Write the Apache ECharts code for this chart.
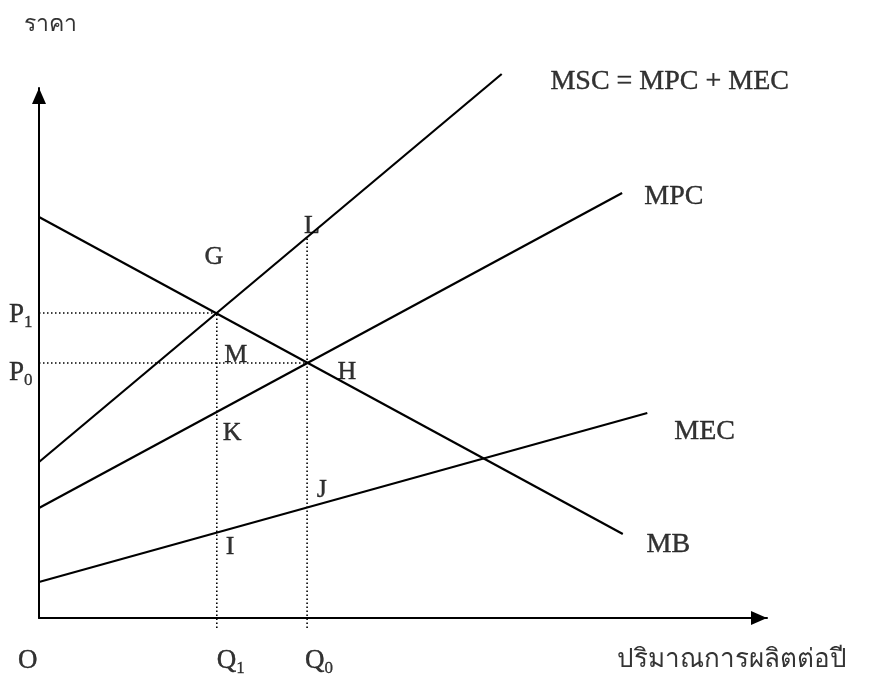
<!DOCTYPE html>
<html><head><meta charset="utf-8">
<script src="https://cdn.jsdelivr.net/npm/echarts@6/dist/echarts.min.js"></script>
<style>html,body{margin:0;padding:0;background:#fff}#c{width:884px;height:680px}</style>
</head><body><div id="c"></div>
<script>
// axis ranges (arbitrary units)
const xMax = 104, yMax = 106;
// equilibrium quantities and prices
const Q1 = 25.4, Q0 = 38.3;
const P1 = 61, P0 = 51;
// curves: [quantity, price]
const MSC = [[0, 31.2], [66.1, 108.8]];
const MPC = [[0, 22.0], [83.3, 85.0]];
const MEC = [[0, 7.2], [86.9, 41.0]];
const MB  = [[0, 80.2], [83.4, 16.8]];
const L_price = 76.2; // MSC at Q0
// point labels: [text, quantity, price]
const pointLabels = [['G', 25.0, 72.2], ['L', 39.0, 78.4], ['M', 28.1, 52.6], ['H', 44.0, 49.2],
                     ['K', 27.6, 37.0], ['J', 40.4, 25.6], ['I', 27.3, 14.2]];
const curveLabels = [['MSC = MPC + MEC', 90.1, 107.2], ['MPC', 90.7, 84.2], ['MEC', 95.1, 37.2], ['MB', 89.9, 14.6]];
// axis labels: [main, subscript, quantity, price]
const priceLabels = [['P', '1', -2.6, 60.6], ['P', '0', -2.6, 49.0]];
const qtyLabels = [['O', '', -1.6, -8.6], ['Q', '1', 27.4, -8.6], ['Q', '0', 40.0, -8.6]];
const xTitle = ['ปริมาณการผลิตต่อปี', 99.0, -8.4];
const yTitle = ['ราคา', 1.6, 118.6];

const FONT = '"Liberation Serif", "Times New Roman", serif';
const solid = {color: '#000', width: 2.2};
const dotted = {color: '#000', width: 1.6, type: [1.5, 2.5]};
function lineSeries(data, style) {
  return {type: 'line', data: data, symbol: 'none', lineStyle: style, clip: false, silent: true, z: 3};
}
function textSeries(items, fontSize, rich, border) {
  return {
    type: 'scatter', symbolSize: 0, clip: false, silent: true, z: 5,
    data: items.map(d => ({name: d[0], sub: d[1], value: [d[d.length - 2], d[d.length - 1]]})),
    label: {show: true, position: 'inside', color: '#000', fontFamily: FONT, fontSize: fontSize,
      textBorderWidth: border, textBorderColor: '#000',
      formatter: rich ? (p => '{a|' + p.data.name + '}' + (p.data.sub ? '{s|' + p.data.sub + '}' : '')) : '{b}',
      rich: rich || undefined}
  };
}
const subRich = {a: {fontSize: 27, fontFamily: FONT, color: '#000', lineHeight: 30, textBorderWidth: 0.4, textBorderColor: '#000'},
                 s: {fontSize: 17, fontFamily: FONT, color: '#000', padding: [16, 0, 0, 0], lineHeight: 30, textBorderWidth: 0.3, textBorderColor: '#000'}};
const axisArrow = {lineStyle: {color: '#000', width: 2}, symbol: ['none', 'triangle'], symbolSize: [14, 16], symbolOffset: [0, -8]};

const chart = echarts.init(document.getElementById('c'), null, {renderer: 'canvas'});
chart.setOption({
  animation: false,
  backgroundColor: '#fff',
  grid: {left: 39, right: 117, top: 88, bottom: 62},
  xAxis: {type: 'value', min: 0, max: xMax, splitLine: {show: false}, axisTick: {show: false}, axisLabel: {show: false}, axisLine: axisArrow},
  yAxis: {type: 'value', min: 0, max: yMax, splitLine: {show: false}, axisTick: {show: false}, axisLabel: {show: false}, axisLine: axisArrow},
  series: [
    lineSeries(MSC, solid), lineSeries(MPC, solid), lineSeries(MEC, solid), lineSeries(MB, solid),
    lineSeries([[0, P1], [Q1, P1]], dotted),
    lineSeries([[0, P0], [Q0, P0]], dotted),
    lineSeries([[Q1, -2], [Q1, P1]], dotted),
    lineSeries([[Q0, -2], [Q0, L_price]], dotted),
    textSeries(pointLabels, 26, null, 0.4),
    textSeries(curveLabels, 28, null, 0.4),
    textSeries(priceLabels, 27, subRich, 0.4),
    textSeries(qtyLabels, 27, subRich, 0.4),
    textSeries([xTitle], 26, null, 0),
    textSeries([yTitle], 23, null, 0)
  ]
});
</script></body></html>
